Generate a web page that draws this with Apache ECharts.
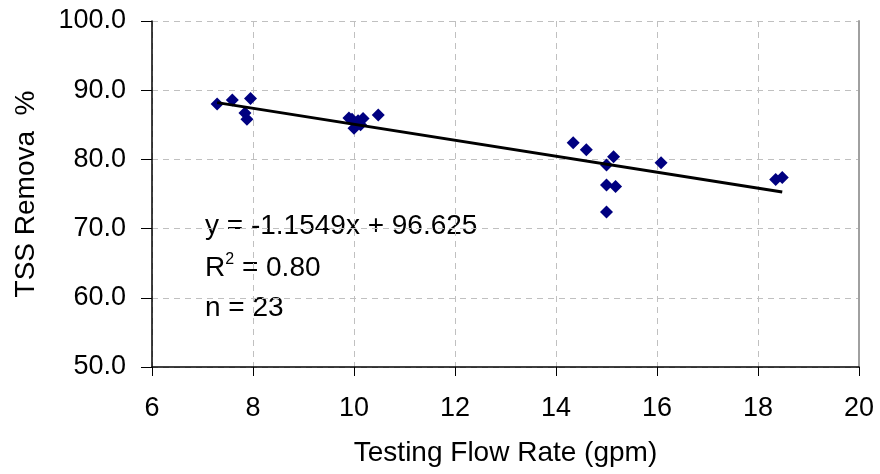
<!DOCTYPE html>
<html><head><meta charset="utf-8">
<script src="https://cdn.jsdelivr.net/npm/echarts@6/dist/echarts.min.js"></script>
<style>html,body{margin:0;padding:0;background:#fff}#c{width:880px;height:474px}</style>
</head><body><div id="c"></div>
<script>
var flowRate = [7.29,7.59,7.95,7.84,7.88,9.90,9.96,10.00,10.04,10.08,10.18,10.13,10.48,14.34,14.60,15.14,15.00,15.00,15.18,15.00,16.08,18.35,18.48];
var tssRemoval = [88.0,88.6,88.8,86.7,85.8,86.0,85.8,84.5,85.2,85.6,85.9,85.0,86.4,82.4,81.4,80.4,79.2,76.3,76.1,72.4,79.5,77.1,77.4];
var slope = -1.1549, intercept = 96.625;
var trendX = [7.29, 18.48];
var xTicks = [6,8,10,12,14,16,18,20];
var yTicks = [50,60,70,80,90,100];
var eqLines = ['y = -1.1549x + 96.625', 'R{s|2} = 0.80', 'n = 23'];

var pts = flowRate.map(function(x,i){return [x,tssRemoval[i]];});
var trend = trendX.map(function(x){return [x, slope*x+intercept];});
var font = 'Liberation Sans, Arial, sans-serif';
var chart = echarts.init(document.getElementById('c'));
chart.setOption({
  animation:false,
  grid:{left:152,right:21,top:21,bottom:107,containLabel:false},
  xAxis:{type:'value',min:6,max:20,interval:2,
    name:'Testing Flow Rate (gpm)',nameLocation:'middle',nameGap:72,
    nameTextStyle:{color:'#000',fontSize:28,fontFamily:font},
    axisLine:{lineStyle:{color:'#000',width:1.5}},
    axisTick:{show:true,inside:false,length:9,lineStyle:{color:'#000'}},
    axisLabel:{color:'#000',fontSize:27,fontFamily:font,margin:28},
    splitLine:{show:true,lineStyle:{color:'#c0c0c0',type:[6,5],width:1}}},
  yAxis:[{type:'value',min:50,max:100,interval:10,
    name:'TSS Remova  %',nameLocation:'middle',nameGap:112,nameRotate:90,
    nameTextStyle:{color:'#000',fontSize:28,fontFamily:font},
    axisLine:{show:true,lineStyle:{color:'#000',width:1.5}},
    axisTick:{show:true,inside:false,length:11,lineStyle:{color:'#000'}},
    axisLabel:{color:'#000',fontSize:27,fontFamily:font,margin:26,formatter:function(v){return v.toFixed(1);}},
    splitLine:{show:true,lineStyle:{color:'#c0c0c0',type:[6,5],width:1}}},
   {type:'value',min:50,max:100,interval:10,position:'right',
    axisLine:{show:true,lineStyle:{color:'#a0a0a0',width:2}},axisTick:{show:false},axisLabel:{show:false},splitLine:{show:false}}],
  series:[
    {type:'line',data:trend,showSymbol:false,symbol:'none',lineStyle:{color:'#000',width:3},z:3},
    {type:'scatter',data:pts,symbol:'diamond',symbolSize:13,itemStyle:{color:'#000080',opacity:1},z:2}
  ],
  graphic:[
    {type:'text',left:205,top:212,style:{text:eqLines[0],fontSize:28,fontFamily:font,fill:'#000'}},
    {type:'text',left:205,top:252,style:{text:eqLines[1],fontSize:28,fontFamily:font,fill:'#000',rich:{s:{fontSize:16,verticalAlign:'top',padding:[0,0,16,0],fontFamily:font}}}},
    {type:'text',left:205,top:294,style:{text:eqLines[2],fontSize:28,fontFamily:font,fill:'#000'}}
  ]
});
</script></body></html>
